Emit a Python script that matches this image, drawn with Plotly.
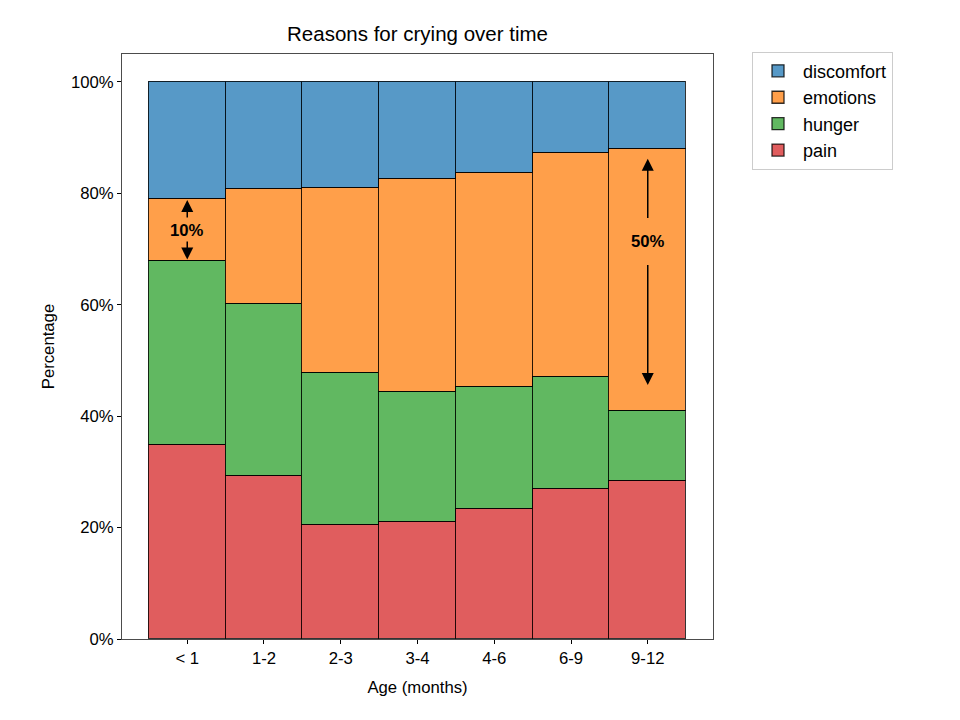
import plotly.graph_objects as go

categories = ["< 1", "1-2", "2-3", "3-4", "4-6", "6-9", "9-12"]
pain = [34.8, 29.2, 20.4, 21.0, 23.4, 27.0, 28.4]
hunger = [33.1, 30.9, 27.4, 23.4, 21.9, 20.0, 12.6]
emotions = [11.1, 20.7, 33.2, 38.1, 38.4, 40.3, 46.9]
discomfort = [21.0, 19.2, 19.0, 17.5, 16.3, 12.7, 12.1]

series_names = ["pain", "hunger", "emotions", "discomfort"]
series_values = [pain, hunger, emotions, discomfort]
series_colors = ["rgba(214,39,40,0.75)", "rgba(44,160,44,0.75)",
                 "rgba(255,127,14,0.75)", "rgba(31,119,180,0.75)"]

# annotations: (category, text y, upper tail, upper tip, lower tail, lower tip, label)
ann_specs = [
    ("< 1", 73.3, 75.4, 78.8, 71.6, 68.1, "10%"),
    ("9-12", 71.3, 75.3, 86.2, 67.4, 45.6, "50%"),
]

FONT = "Liberation Sans, Arial, sans-serif"

fig = go.Figure()
for name, vals, col in zip(series_names, series_values, series_colors):
    fig.add_trace(go.Bar(
        x=categories, y=vals, name=name,
        marker=dict(color=col, line=dict(color="rgba(0,0,0,0.8)", width=1.3)),
    ))

annotations = []
for cat, ty, ut, utip, lt, ltip, label in ann_specs:
    annotations.append(dict(x=cat, y=ty, xref="x", yref="y", text="<b>%s</b>" % label,
                            showarrow=False, font=dict(size=16.7, color="black", family=FONT)))
    for tail, tip in ((ut, utip), (lt, ltip)):
        annotations.append(dict(x=cat, y=tip, ax=cat, ay=tail, xref="x", yref="y",
                                axref="x", ayref="y", text="", showarrow=True,
                                arrowhead=2, arrowsize=1.6, arrowwidth=1.5,
                                arrowcolor="black", standoff=0, startstandoff=0))

# page body has an 8px margin, so the figure is 952x712 offset by 8px
fig.update_layout(
    width=952, height=712,
    margin=dict(l=114, r=247, t=46, b=81),
    paper_bgcolor="white", plot_bgcolor="white",
    barmode="stack", bargap=0,
    font=dict(family=FONT, size=16.7, color="black"),
    title=dict(text="Reasons for crying over time", x=0.5, xref="paper",
               y=1 - 26 / 712, yref="container", xanchor="center", yanchor="middle",
               font=dict(size=20.5, family=FONT, color="black")),
    legend=dict(x=1.066, y=1.004, xanchor="left", yanchor="top", traceorder="reversed",
                bordercolor="#cccccc", borderwidth=1, bgcolor="white", itemwidth=40,
                font=dict(size=18, family=FONT, color="black")),
    annotations=annotations,
    showlegend=True,
)
fig.update_xaxes(
    range=[-0.85, 6.85], showline=True, linecolor="rgba(0,0,0,0.7)", linewidth=1,
    mirror=True, ticks="outside", ticklen=4, tickcolor="black", showgrid=False,
    title=dict(text="Age (months)", standoff=14, font=dict(size=16.7)),
    tickfont=dict(size=16.7),
)
fig.update_yaxes(
    range=[0, 105], showline=True, linecolor="rgba(0,0,0,0.7)", linewidth=1,
    mirror=True, ticks="outside", ticklen=4, tickcolor="black", showgrid=False,
    tickvals=[0, 20, 40, 60, 80, 100], ticktext=["0%", "20%", "40%", "60%", "80%", "100%"],
    title=dict(text="Percentage", standoff=12, font=dict(size=16.7)),
    tickfont=dict(size=16.7), zeroline=False,
)

fig.write_html("out.html")
